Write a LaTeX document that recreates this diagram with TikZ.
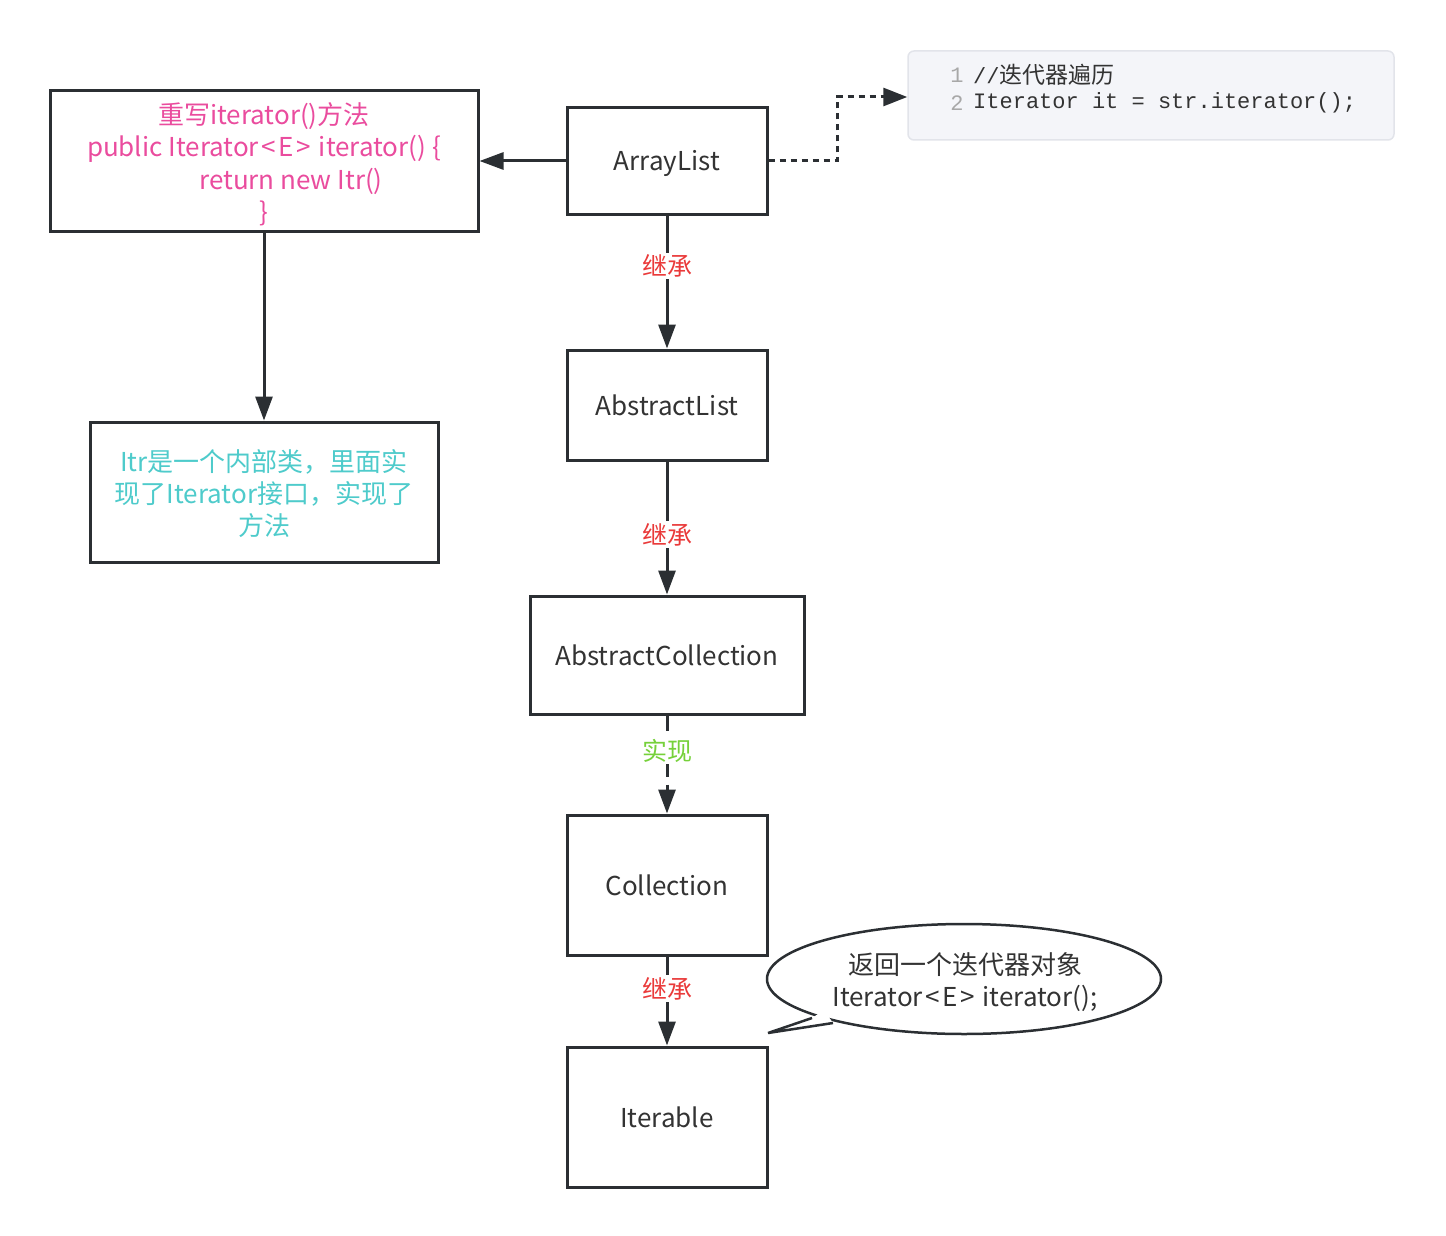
\documentclass[tikz,border=0pt]{standalone}
\usepackage{fontspec}
\setmainfont{Noto Sans CJK SC}
\newfontfamily\codefont{Liberation Mono}
\newfontfamily\cjkcode{Noto Sans CJK SC}
\usetikzlibrary{arrows.meta,shapes.geometric}
\definecolor{linec}{HTML}{2B2F33}
\definecolor{txt}{HTML}{333333}
\definecolor{pinkc}{HTML}{EA4C9E}
\definecolor{cyanc}{HTML}{4ECBCB}
\definecolor{redc}{HTML}{EA3A3A}
\definecolor{greenc}{HTML}{76D13A}
\definecolor{codebg}{HTML}{F4F5F9}
\definecolor{codeborder}{HTML}{E2E4EA}
\definecolor{lnum}{HTML}{A8A8A8}
\newcommand\ltg{\hspace{2.5pt}<\hspace{2.5pt}}
\newcommand\gtg{\hspace{2.5pt}>\hspace{2.5pt}}
\begin{document}
\begin{tikzpicture}[x=1pt,y=-1pt,
  box/.style={draw=linec, line width=3pt, fill=white, inner sep=0pt, text=txt,
    font=\fontsize{26}{32}\selectfont, text height=20pt, text depth=0pt},
  multitext/.style={inner sep=0pt, align=center, font=\fontsize{26}{32.5}\selectfont},
  conn/.style={draw=linec, line width=3pt, -{Triangle[length=24pt,width=17pt]}},
  lbl/.style={fill=white, inner sep=2pt, font=\fontsize{25}{30}\selectfont},
  codetxt/.style={anchor=west, inner sep=0pt, text=txt, font=\fontsize{22}{26}\codefont}
]
\useasboundingbox (0,0) rectangle (1446,1236);

% main chain
\node[box, minimum width=200pt, minimum height=106pt] (arraylist) at (667,161) {ArrayList};
\node[box, minimum width=200pt, minimum height=110pt] (abslist) at (667,405) {AbstractList};
\node[box, minimum width=274pt, minimum height=118pt] (abscoll) at (667,655) {AbstractCollection};
\node[box, minimum width=200pt, minimum height=140pt] (coll) at (667,885) {Collection};
\node[box, minimum width=200pt, minimum height=140pt] (iterable) at (667,1117) {Iterable};

% left boxes
\node[box, minimum width=428pt, minimum height=140pt] (override) at (264,161) {};
\node[multitext, text=pinkc] (overridetxt) at (264,164)
  {重写iterator()方法\\public Iterator\ltg E\gtg{} iterator() \{\\\hspace*{54pt}return new Itr()\\\}};
\node[box, minimum width=348pt, minimum height=140pt] (itr) at (264,492) {};
\node[multitext, text=cyanc, font=\fontsize{26}{32}\selectfont] (itrtxt) at (264,494)
  {Itr是一个内部类，里面实\\现了Iterator接口，实现了\\方法};

% code snippet
\node[draw=codeborder, fill=codebg, line width=1.5pt, rounded corners=6pt,
  minimum width=486pt, minimum height=89pt, inner sep=0pt] (code) at (1151,95.5) {};
\node[anchor=center, inner sep=0pt, text=lnum, font=\fontsize{22}{26}\codefont] (n1) at (957,75) {1};
\node[anchor=center, inner sep=0pt, text=lnum, font=\fontsize{22}{26}\codefont] (n2) at (957,103) {2};
\node[codetxt] (c1) at (973,75) {//{\cjkcode\fontsize{23}{26}\selectfont 迭代器遍历}};
\node[codetxt] (c2) at (973,103) {Iterator it = str.iterator();};

% connectors
\draw[conn] (arraylist.west) -- (override.east);
\draw[conn] (override.south) -- (itr.north);
\draw[conn] (arraylist.south) -- node[lbl, text=redc, pos=0.38] (l1) {继承} (abslist.north);
\draw[conn] (abslist.south) -- node[lbl, text=redc, pos=0.55] (l2) {继承} (abscoll.north);
\draw[conn, dash pattern=on 15pt off 8pt] (abscoll.south) -- node[lbl, text=greenc, pos=0.36] (l3) {实现} (coll.north);
\draw[conn] (coll.south) -- node[lbl, text=redc, pos=0.36] (l4) {继承} (iterable.north);

\coordinate (d1) at (837,161);
\coordinate (d2) at (837,97);
\draw[draw=linec, line width=3pt, dash pattern=on 6pt off 5pt, -{Triangle[length=24pt,width=18pt]}]
  (arraylist.east) -- (d1) -- (d2) -- (code.west |- d2);

% callout
\node[draw=linec, line width=2.5pt, ellipse, minimum width=394pt, minimum height=110pt,
  inner sep=0pt] (callout) at (964,979) {};
\node[multitext, text=txt, font=\fontsize{26}{31.5}\selectfont] (callouttxt) at (965,982)
  {返回一个迭代器对象\\Iterator\ltg E\gtg{} iterator();};
\coordinate (tip) at (768,1033);
\coordinate (b1) at (812,1018);
\coordinate (b2) at (833,1023);
\coordinate (bin) at (824,1010);
\fill[white] (b1) -- (bin) -- (b2) -- (tip) -- cycle;
\draw[draw=linec, line width=2.5pt, line join=miter] (b1) -- (tip) -- (b2);
\end{tikzpicture}
\end{document}
